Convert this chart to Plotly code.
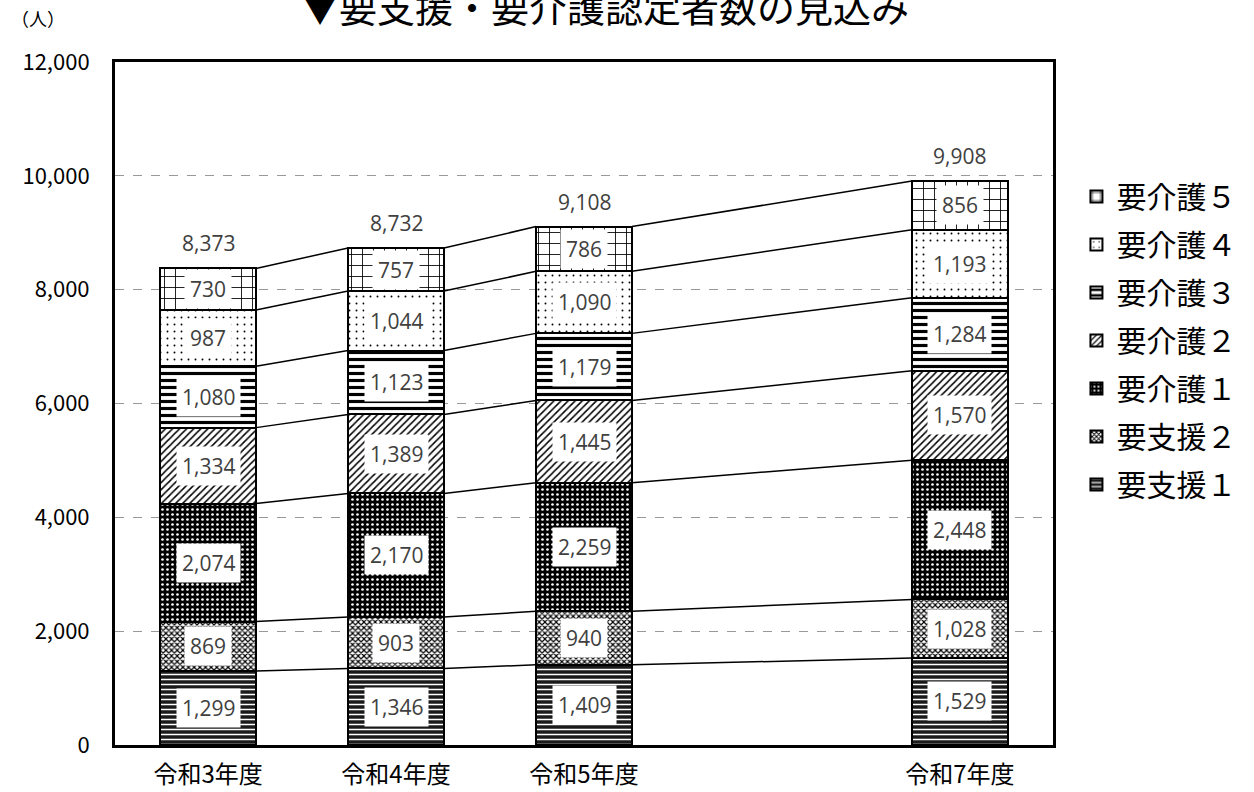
import plotly.graph_objects as go

categories = ["令和3年度", "令和4年度", "令和5年度", "令和7年度"]
years = [3, 4, 5, 7]
series_names = ["要支援１", "要支援２", "要介護１", "要介護２", "要介護３", "要介護４", "要介護５"]
shien1 = [1299, 1346, 1409, 1529]
shien2 = [869, 903, 940, 1028]
kaigo1 = [2074, 2170, 2259, 2448]
kaigo2 = [1334, 1389, 1445, 1570]
kaigo3 = [1080, 1123, 1179, 1284]
kaigo4 = [987, 1044, 1090, 1193]
kaigo5 = [730, 757, 786, 856]
series_values = [shien1, shien2, kaigo1, kaigo2, kaigo3, kaigo4, kaigo5]
y_ticks = [0, 2000, 4000, 6000, 8000, 10000, 12000]

patterns = [
    dict(shape="-", bgcolor="#1a1a1a", fgcolor="white", size=5, solidity=0.3, fillmode="replace"),
    dict(shape="x", bgcolor="white", fgcolor="black", size=4, solidity=0.5, fillmode="replace"),
    dict(shape=".", bgcolor="black", fgcolor="white", size=5, solidity=0.22, fillmode="replace"),
    dict(shape="/", bgcolor="white", fgcolor="black", size=5, solidity=0.3, fillmode="replace"),
    dict(shape="-", bgcolor="white", fgcolor="black", size=7, solidity=0.45, fillmode="replace"),
    dict(shape=".", bgcolor="white", fgcolor="black", size=7, solidity=0.06, fillmode="replace"),
    dict(shape="+", bgcolor="white", fgcolor="black", size=11, solidity=0.15, fillmode="replace"),
]

x_pos = [y - years[0] for y in years]
bar_width = 0.51
JP = "Noto Sans CJK JP"

fig = go.Figure()
n_series = len(series_names)
for i, (name, vals) in enumerate(zip(series_names, series_values)):
    fig.add_trace(go.Bar(
        x=x_pos, y=vals, name=name, width=bar_width,
        marker=dict(color="white", pattern=patterns[i], line=dict(color="black", width=2)),
        legendgroup=name, legendrank=n_series - i, hoverinfo="skip",
    ))

# cumulative tops
cum = []
running = [0] * len(x_pos)
for vals in series_values:
    running = [r + v for r, v in zip(running, vals)]
    cum.append(list(running))

# connector lines
for tops in cum:
    lx, ly = [], []
    for j in range(len(x_pos) - 1):
        lx += [x_pos[j] + bar_width / 2, x_pos[j + 1] - bar_width / 2, None]
        ly += [tops[j], tops[j + 1], None]
    fig.add_trace(go.Scatter(x=lx, y=ly, mode="lines", line=dict(color="black", width=1.5),
                             showlegend=False, hoverinfo="skip"))

annotations = []
for k, vals in enumerate(series_values):
    for j, v in enumerate(vals):
        center = cum[k][j] - v / 2
        annotations.append(dict(x=x_pos[j], y=center, xref="x", yref="y", text=f"{v:,}",
                                showarrow=False, bgcolor="white", borderpad=5,
                                font=dict(family="Open Sans", size=21, color="#404040")))
for j, t in enumerate(cum[-1]):
    annotations.append(dict(x=x_pos[j], y=t, xref="x", yref="y", text=f"{t:,}",
                            showarrow=False, yshift=25,
                            font=dict(family="Open Sans", size=21, color="#404040")))
annotations.append(dict(x=0.522, y=1.083, xref="paper", yref="paper", text="▼要支援・要介護認定者数の見込み",
                        showarrow=False, xanchor="center", yanchor="middle",
                        font=dict(family=JP, size=38, color="black")))
annotations.append(dict(x=-0.082, y=1.064, xref="paper", yref="paper", text="（人）",
                        showarrow=False, xanchor="center", yanchor="middle",
                        font=dict(family=JP, size=18, color="black")))

fig.update_layout(
    width=1254, height=792,
    margin=dict(l=115, r=201, t=62, b=47),
    paper_bgcolor="white", plot_bgcolor="white",
    barmode="stack",
    showlegend=True,
    legend=dict(traceorder="grouped", x=1.025, y=0.841, xanchor="left", yanchor="top",
                font=dict(family=JP, size=30, color="black"), tracegroupgap=6,
                bgcolor="rgba(0,0,0,0)"),
    annotations=annotations,
    xaxis=dict(range=[-0.495, 4.495], tickvals=x_pos, ticktext=categories,
               showgrid=False, zeroline=False, showline=True, mirror=True,
               linecolor="black", linewidth=3, ticks="", automargin=False,
               tickfont=dict(family=JP, size=24, color="black"), ticklabelstandoff=6),
    yaxis=dict(range=[0, 12000], tickvals=y_ticks, tickformat=",",
               showgrid=True, gridcolor="#999999", griddash="dash", gridwidth=1,
               zeroline=False, showline=True, mirror=True, linecolor="black", linewidth=3,
               ticks="", automargin=False,
               tickfont=dict(family=JP, size=22, color="black"), ticklabelstandoff=18),
)

fig.write_html("out.html", config={"displayModeBar": False},
               post_script="document.body.style.margin='0';document.body.style.overflow='hidden';")
